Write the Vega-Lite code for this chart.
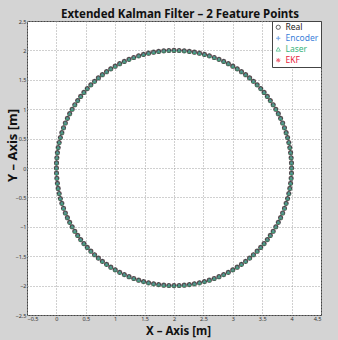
{
  "$schema": "https://vega.github.io/schema/vega-lite/v6.json",
  "width": 294,
  "height": 294,
  "autosize": "none",
  "padding": {"left": 27, "top": 21, "right": 17, "bottom": 25},
  "background": "#d4d4d4",
  "title": {"text": "Extended Kalman Filter – 2 Feature Points", "fontSize": 11.5, "fontWeight": "bold", "font": "Noto Sans", "color": "#111111", "anchor": "middle", "dx": 6, "offset": -1},
  "config": {
    "view": {"fill": "white", "stroke": "#444444", "strokeWidth": 1},
    "axis": {"domain": false, "ticks": false, "grid": true, "gridDash": [1, 2], "gridColor": "#a0a0a0", "gridOpacity": 1, "labelFontSize": 5.5, "labelColor": "#333333", "labelFont": "Noto Sans", "titleFont": "Noto Sans", "titleFontSize": 13, "titleFontWeight": "bold", "titleColor": "#111111", "labelPadding": 1}
  },
  "data": {"values": [
    {"x": 4.000, "y": 0.000}, {"x": 3.998, "y": 0.087}, {"x": 3.992, "y": 0.174}, {"x": 3.983, "y": 0.261}, {"x": 3.970, "y": 0.347}, {"x": 3.953, "y": 0.433}, {"x": 3.932, "y": 0.518}, {"x": 3.907, "y": 0.601}, {"x": 3.879, "y": 0.684}, {"x": 3.848, "y": 0.765}, {"x": 3.813, "y": 0.845}, {"x": 3.774, "y": 0.924},
    {"x": 3.732, "y": 1.000}, {"x": 3.687, "y": 1.075}, {"x": 3.638, "y": 1.147}, {"x": 3.587, "y": 1.218}, {"x": 3.532, "y": 1.286}, {"x": 3.475, "y": 1.351}, {"x": 3.414, "y": 1.414}, {"x": 3.351, "y": 1.475}, {"x": 3.286, "y": 1.532}, {"x": 3.218, "y": 1.587}, {"x": 3.147, "y": 1.638}, {"x": 3.075, "y": 1.687},
    {"x": 3.000, "y": 1.732}, {"x": 2.924, "y": 1.774}, {"x": 2.845, "y": 1.813}, {"x": 2.765, "y": 1.848}, {"x": 2.684, "y": 1.879}, {"x": 2.601, "y": 1.907}, {"x": 2.518, "y": 1.932}, {"x": 2.433, "y": 1.953}, {"x": 2.347, "y": 1.970}, {"x": 2.261, "y": 1.983}, {"x": 2.174, "y": 1.992}, {"x": 2.087, "y": 1.998},
    {"x": 2.000, "y": 2.000}, {"x": 1.913, "y": 1.998}, {"x": 1.826, "y": 1.992}, {"x": 1.739, "y": 1.983}, {"x": 1.653, "y": 1.970}, {"x": 1.567, "y": 1.953}, {"x": 1.482, "y": 1.932}, {"x": 1.399, "y": 1.907}, {"x": 1.316, "y": 1.879}, {"x": 1.235, "y": 1.848}, {"x": 1.155, "y": 1.813}, {"x": 1.076, "y": 1.774},
    {"x": 1.000, "y": 1.732}, {"x": 0.925, "y": 1.687}, {"x": 0.853, "y": 1.638}, {"x": 0.782, "y": 1.587}, {"x": 0.714, "y": 1.532}, {"x": 0.649, "y": 1.475}, {"x": 0.586, "y": 1.414}, {"x": 0.525, "y": 1.351}, {"x": 0.468, "y": 1.286}, {"x": 0.413, "y": 1.218}, {"x": 0.362, "y": 1.147}, {"x": 0.313, "y": 1.075},
    {"x": 0.268, "y": 1.000}, {"x": 0.226, "y": 0.924}, {"x": 0.187, "y": 0.845}, {"x": 0.152, "y": 0.765}, {"x": 0.121, "y": 0.684}, {"x": 0.093, "y": 0.601}, {"x": 0.068, "y": 0.518}, {"x": 0.047, "y": 0.433}, {"x": 0.030, "y": 0.347}, {"x": 0.017, "y": 0.261}, {"x": 0.008, "y": 0.174}, {"x": 0.002, "y": 0.087},
    {"x": 0.000, "y": 0.000}, {"x": 0.002, "y": -0.087}, {"x": 0.008, "y": -0.174}, {"x": 0.017, "y": -0.261}, {"x": 0.030, "y": -0.347}, {"x": 0.047, "y": -0.433}, {"x": 0.068, "y": -0.518}, {"x": 0.093, "y": -0.601}, {"x": 0.121, "y": -0.684}, {"x": 0.152, "y": -0.765}, {"x": 0.187, "y": -0.845}, {"x": 0.226, "y": -0.924},
    {"x": 0.268, "y": -1.000}, {"x": 0.313, "y": -1.075}, {"x": 0.362, "y": -1.147}, {"x": 0.413, "y": -1.218}, {"x": 0.468, "y": -1.286}, {"x": 0.525, "y": -1.351}, {"x": 0.586, "y": -1.414}, {"x": 0.649, "y": -1.475}, {"x": 0.714, "y": -1.532}, {"x": 0.782, "y": -1.587}, {"x": 0.853, "y": -1.638}, {"x": 0.925, "y": -1.687},
    {"x": 1.000, "y": -1.732}, {"x": 1.076, "y": -1.774}, {"x": 1.155, "y": -1.813}, {"x": 1.235, "y": -1.848}, {"x": 1.316, "y": -1.879}, {"x": 1.399, "y": -1.907}, {"x": 1.482, "y": -1.932}, {"x": 1.567, "y": -1.953}, {"x": 1.653, "y": -1.970}, {"x": 1.739, "y": -1.983}, {"x": 1.826, "y": -1.992}, {"x": 1.913, "y": -1.998},
    {"x": 2.000, "y": -2.000}, {"x": 2.087, "y": -1.998}, {"x": 2.174, "y": -1.992}, {"x": 2.261, "y": -1.983}, {"x": 2.347, "y": -1.970}, {"x": 2.433, "y": -1.953}, {"x": 2.518, "y": -1.932}, {"x": 2.601, "y": -1.907}, {"x": 2.684, "y": -1.879}, {"x": 2.765, "y": -1.848}, {"x": 2.845, "y": -1.813}, {"x": 2.924, "y": -1.774},
    {"x": 3.000, "y": -1.732}, {"x": 3.075, "y": -1.687}, {"x": 3.147, "y": -1.638}, {"x": 3.218, "y": -1.587}, {"x": 3.286, "y": -1.532}, {"x": 3.351, "y": -1.475}, {"x": 3.414, "y": -1.414}, {"x": 3.475, "y": -1.351}, {"x": 3.532, "y": -1.286}, {"x": 3.587, "y": -1.218}, {"x": 3.638, "y": -1.147}, {"x": 3.687, "y": -1.075},
    {"x": 3.732, "y": -1.000}, {"x": 3.774, "y": -0.924}, {"x": 3.813, "y": -0.845}, {"x": 3.848, "y": -0.765}, {"x": 3.879, "y": -0.684}, {"x": 3.907, "y": -0.601}, {"x": 3.932, "y": -0.518}, {"x": 3.953, "y": -0.433}, {"x": 3.970, "y": -0.347}, {"x": 3.983, "y": -0.261}, {"x": 3.992, "y": -0.174}, {"x": 3.998, "y": -0.087}
  ]},
  "encoding": {
    "x": {"field": "x", "type": "quantitative", "scale": {"domain": [-0.5, 4.5], "nice": false, "zero": false}, "axis": {"values": [-0.5, 0, 0.5, 1, 1.5, 2, 2.5, 3, 3.5, 4, 4.5], "format": "~g", "title": "X – Axis [m]", "titleFontSize": 11.5, "titleX": 151, "titleY": 10, "titleBaseline": "top"}},
    "y": {"field": "y", "type": "quantitative", "scale": {"domain": [-2.5, 2.5], "nice": false, "zero": false}, "axis": {"values": [-2.5, -2, -1.5, -1, -0.5, 0, 0.5, 1, 1.5, 2, 2.5], "format": "~g", "title": "Y – Axis [m]", "titleX": -15, "titleY": 124, "titleBaseline": "middle"}}
  },
  "layer": [
    {"mark": {"type": "point", "filled": false, "strokeWidth": 1, "size": 18},
     "encoding": {"color": {"datum": "EKF", "type": "nominal", "scale": {"domain": ["Real", "Encoder", "Laser", "EKF"], "range": ["#222222", "#3b7fd9", "#36b37a", "#e8243c"]}, "legend": {"title": null, "orient": "top-right", "offset": 0, "fillColor": "white", "strokeColor": "#444444", "padding": 2, "labelFontSize": 8.5, "labelFont": "Noto Sans", "symbolSize": 18, "symbolStrokeWidth": 1, "rowPadding": 2, "labelOffset": 3, "labelExpr": "datum.label + '            '", "labelColor": {"expr": "datum.value === 'Encoder' ? '#3b7fd9' : datum.value === 'Laser' ? '#36b37a' : datum.value === 'EKF' ? '#e8243c' : '#222222'"}}},
                  "shape": {"datum": "EKF", "type": "nominal", "scale": {"domain": ["Real", "Encoder", "Laser", "EKF"], "range": ["circle", "M-1,0L1,0M0,-1L0,1", "triangle-up", "M-1,0L1,0M0,-1L0,1M-0.7,-0.7L0.7,0.7M-0.7,0.7L0.7,-0.7"]}}}},
    {"mark": {"type": "point", "filled": false, "strokeWidth": 1, "size": 18},
     "encoding": {"color": {"datum": "Encoder", "type": "nominal"}, "shape": {"datum": "Encoder", "type": "nominal"}}},
    {"mark": {"type": "point", "filled": false, "strokeWidth": 1.4, "size": 14},
     "encoding": {"color": {"datum": "Real", "type": "nominal"}, "shape": {"datum": "Real", "type": "nominal"}}},
    {"mark": {"type": "point", "filled": false, "strokeWidth": 1, "size": 9, "opacity": 0.8},
     "encoding": {"color": {"datum": "Laser", "type": "nominal"}, "shape": {"datum": "Laser", "type": "nominal"}}}
  ]
}
